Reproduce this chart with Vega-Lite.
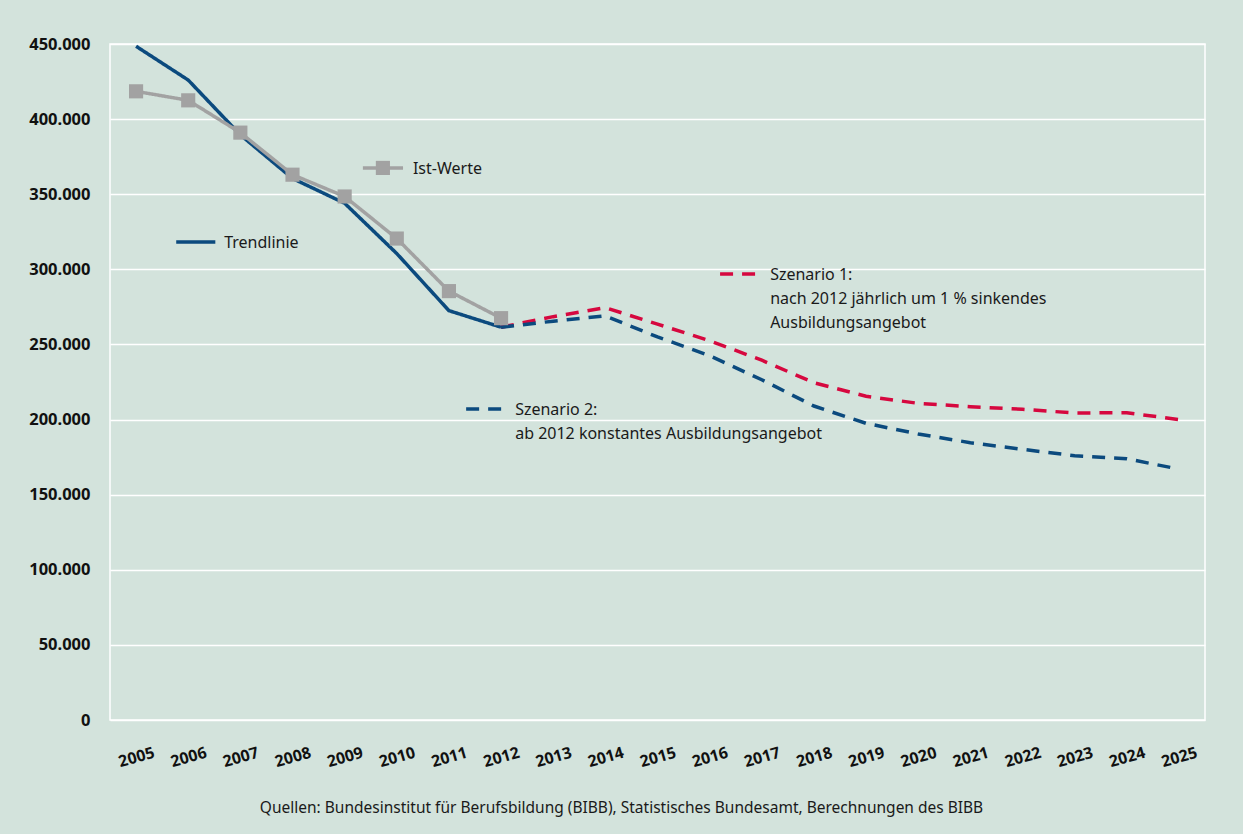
{
  "$schema": "https://vega.github.io/schema/vega-lite/v6.json",
  "width": 1095,
  "height": 676,
  "autosize": {"type": "none"},
  "padding": {"left": 110, "top": 44, "right": 38, "bottom": 114},
  "background": "#d3e3dc",
  "config": {
    "locale": {"number": {"decimal": ",", "thousands": ".", "grouping": [3], "currency": ["", " €"]}},
    "font": "Noto Sans",
    "view": {"stroke": "#ffffff", "strokeWidth": 1.5, "fill": null}
  },
  "title": {
    "text": "Quellen: Bundesinstitut für Berufsbildung (BIBB), Statistisches Bundesamt, Berechnungen des BIBB",
    "orient": "bottom",
    "anchor": "middle",
    "fontSize": 15.5,
    "fontWeight": "normal",
    "color": "#1a1a1a",
    "offset": 31,
    "dx": -36
  },
  "datasets": {
    "series": [
      {"year": 2005, "value": 448500, "serie": "Trendlinie"},
      {"year": 2006, "value": 426000, "serie": "Trendlinie"},
      {"year": 2007, "value": 389500, "serie": "Trendlinie"},
      {"year": 2008, "value": 360500, "serie": "Trendlinie"},
      {"year": 2009, "value": 344000, "serie": "Trendlinie"},
      {"year": 2010, "value": 310500, "serie": "Trendlinie"},
      {"year": 2011, "value": 272500, "serie": "Trendlinie"},
      {"year": 2012, "value": 261500, "serie": "Trendlinie"},
      {"year": 2005, "value": 418500, "serie": "Ist-Werte"},
      {"year": 2006, "value": 412500, "serie": "Ist-Werte"},
      {"year": 2007, "value": 391000, "serie": "Ist-Werte"},
      {"year": 2008, "value": 363000, "serie": "Ist-Werte"},
      {"year": 2009, "value": 348500, "serie": "Ist-Werte"},
      {"year": 2010, "value": 320500, "serie": "Ist-Werte"},
      {"year": 2011, "value": 285500, "serie": "Ist-Werte"},
      {"year": 2012, "value": 267500, "serie": "Ist-Werte"},
      {"year": 2012, "value": 261500, "serie": "Szenario 1"},
      {"year": 2013, "value": 268500, "serie": "Szenario 1"},
      {"year": 2014, "value": 274500, "serie": "Szenario 1"},
      {"year": 2015, "value": 263500, "serie": "Szenario 1"},
      {"year": 2016, "value": 252500, "serie": "Szenario 1"},
      {"year": 2017, "value": 239500, "serie": "Szenario 1"},
      {"year": 2018, "value": 224500, "serie": "Szenario 1"},
      {"year": 2019, "value": 215500, "serie": "Szenario 1"},
      {"year": 2020, "value": 210800, "serie": "Szenario 1"},
      {"year": 2021, "value": 208600, "serie": "Szenario 1"},
      {"year": 2022, "value": 206800, "serie": "Szenario 1"},
      {"year": 2023, "value": 204400, "serie": "Szenario 1"},
      {"year": 2024, "value": 204500, "serie": "Szenario 1"},
      {"year": 2025, "value": 200000, "serie": "Szenario 1"},
      {"year": 2012, "value": 261500, "serie": "Szenario 2"},
      {"year": 2013, "value": 265500, "serie": "Szenario 2"},
      {"year": 2014, "value": 269000, "serie": "Szenario 2"},
      {"year": 2015, "value": 255000, "serie": "Szenario 2"},
      {"year": 2016, "value": 242500, "serie": "Szenario 2"},
      {"year": 2017, "value": 226500, "serie": "Szenario 2"},
      {"year": 2018, "value": 209000, "serie": "Szenario 2"},
      {"year": 2019, "value": 197500, "serie": "Szenario 2"},
      {"year": 2020, "value": 190400, "serie": "Szenario 2"},
      {"year": 2021, "value": 184600, "serie": "Szenario 2"},
      {"year": 2022, "value": 180200, "serie": "Szenario 2"},
      {"year": 2023, "value": 175900, "serie": "Szenario 2"},
      {"year": 2024, "value": 173900, "serie": "Szenario 2"},
      {"year": 2025, "value": 167000, "serie": "Szenario 2"}
    ],
    "keys": [
      {"serie": "Trendlinie", "x1": 2005.77, "x2": 2006.52, "y": 318200, "tx": 2006.69, "ty": 318200, "label": "Trendlinie"},
      {"serie": "Ist-Werte", "x1": 2009.35, "x2": 2010.12, "y": 367500, "tx": 2010.31, "ty": 367500, "label": "Ist-Werte"},
      {"serie": "Szenario 1", "x1": 2016.2, "x2": 2016.97, "y": 296900, "tx": 2017.16, "ty": 296900, "label": "Szenario 1:\nnach 2012 jährlich um 1 % sinkendes\nAusbildungsangebot"},
      {"serie": "Szenario 2", "x1": 2011.33, "x2": 2012.1, "y": 207000, "tx": 2012.27, "ty": 207000, "label": "Szenario 2:\nab 2012 konstantes Ausbildungsangebot"}
    ]
  },
  "layer": [
    {
      "data": {"name": "series"},
      "mark": {"type": "line", "strokeWidth": 3.5, "strokeCap": "butt"},
      "encoding": {
        "x": {
          "field": "year", "type": "quantitative",
          "scale": {"domain": [2004.5, 2025.5], "nice": false, "zero": false},
          "axis": {
            "title": null,
            "values": [2005, 2006, 2007, 2008, 2009, 2010, 2011, 2012, 2013, 2014, 2015, 2016, 2017, 2018, 2019, 2020, 2021, 2022, 2023, 2024, 2025],
            "format": "d",
            "grid": false, "ticks": false, "domain": false,
            "labelAngle": -16,
            "labelAlign": "center",
            "labelBaseline": "middle",
            "labelPadding": 37,
            "labelFontSize": 16,
            "labelFontWeight": "bold",
            "labelColor": "#111111",
            "labelFlush": false,
            "labelOverlap": false
          }
        },
        "y": {
          "field": "value", "type": "quantitative",
          "scale": {"domain": [0, 450000], "nice": false},
          "axis": {
            "title": null,
            "values": [0, 50000, 100000, 150000, 200000, 250000, 300000, 350000, 400000, 450000],
            "format": ",d",
            "ticks": false, "domain": false,
            "grid": true, "gridColor": "#ffffff", "gridWidth": 1.5, "gridOpacity": 1,
            "labelPadding": 20,
            "labelFontSize": 16.5,
            "labelFontWeight": "bold",
            "labelColor": "#111111"
          }
        },
        "color": {
          "field": "serie", "type": "nominal",
          "scale": {"domain": ["Trendlinie", "Ist-Werte", "Szenario 1", "Szenario 2"], "range": ["#0b4a7e", "#a2a2a2", "#d6083f", "#0b4a7e"]},
          "legend": null
        },
        "strokeDash": {
          "field": "serie", "type": "nominal",
          "scale": {"domain": ["Trendlinie", "Ist-Werte", "Szenario 1", "Szenario 2"], "range": [[1, 0], [1, 0], [13, 9], [13, 9]]},
          "legend": null
        },
        "order": {"field": "year", "type": "quantitative"}
      }
    },
    {
      "data": {"name": "series"},
      "transform": [{"filter": "datum.serie === 'Ist-Werte'"}],
      "mark": {"type": "square", "size": 200, "filled": true, "opacity": 1, "color": "#a2a2a2"},
      "encoding": {
        "x": {"field": "year", "type": "quantitative"},
        "y": {"field": "value", "type": "quantitative"}
      }
    },
    {
      "data": {"name": "keys"},
      "mark": {"type": "rule", "strokeWidth": 3.5, "strokeCap": "butt"},
      "encoding": {
        "x": {"field": "x1", "type": "quantitative"},
        "x2": {"field": "x2"},
        "y": {"field": "y", "type": "quantitative"},
        "color": {"field": "serie", "type": "nominal", "legend": null},
        "strokeDash": {"field": "serie", "type": "nominal", "legend": null}
      }
    },
    {
      "data": {"name": "keys"},
      "transform": [{"filter": "datum.serie === 'Ist-Werte'"}],
      "mark": {"type": "square", "size": 200, "filled": true, "opacity": 1, "color": "#a2a2a2"},
      "encoding": {
        "x": {"field": "x1", "type": "quantitative"},
        "y": {"field": "y", "type": "quantitative"},
        "xOffset": {"value": 20}
      }
    },
    {
      "data": {"name": "keys"},
      "mark": {"type": "text", "align": "left", "baseline": "top", "dy": -7, "fontSize": 16, "lineBreak": "\n", "lineHeight": 24, "color": "#1a1a1a"},
      "encoding": {
        "x": {"field": "tx", "type": "quantitative"},
        "y": {"field": "ty", "type": "quantitative"},
        "text": {"field": "label"}
      }
    }
  ]
}
